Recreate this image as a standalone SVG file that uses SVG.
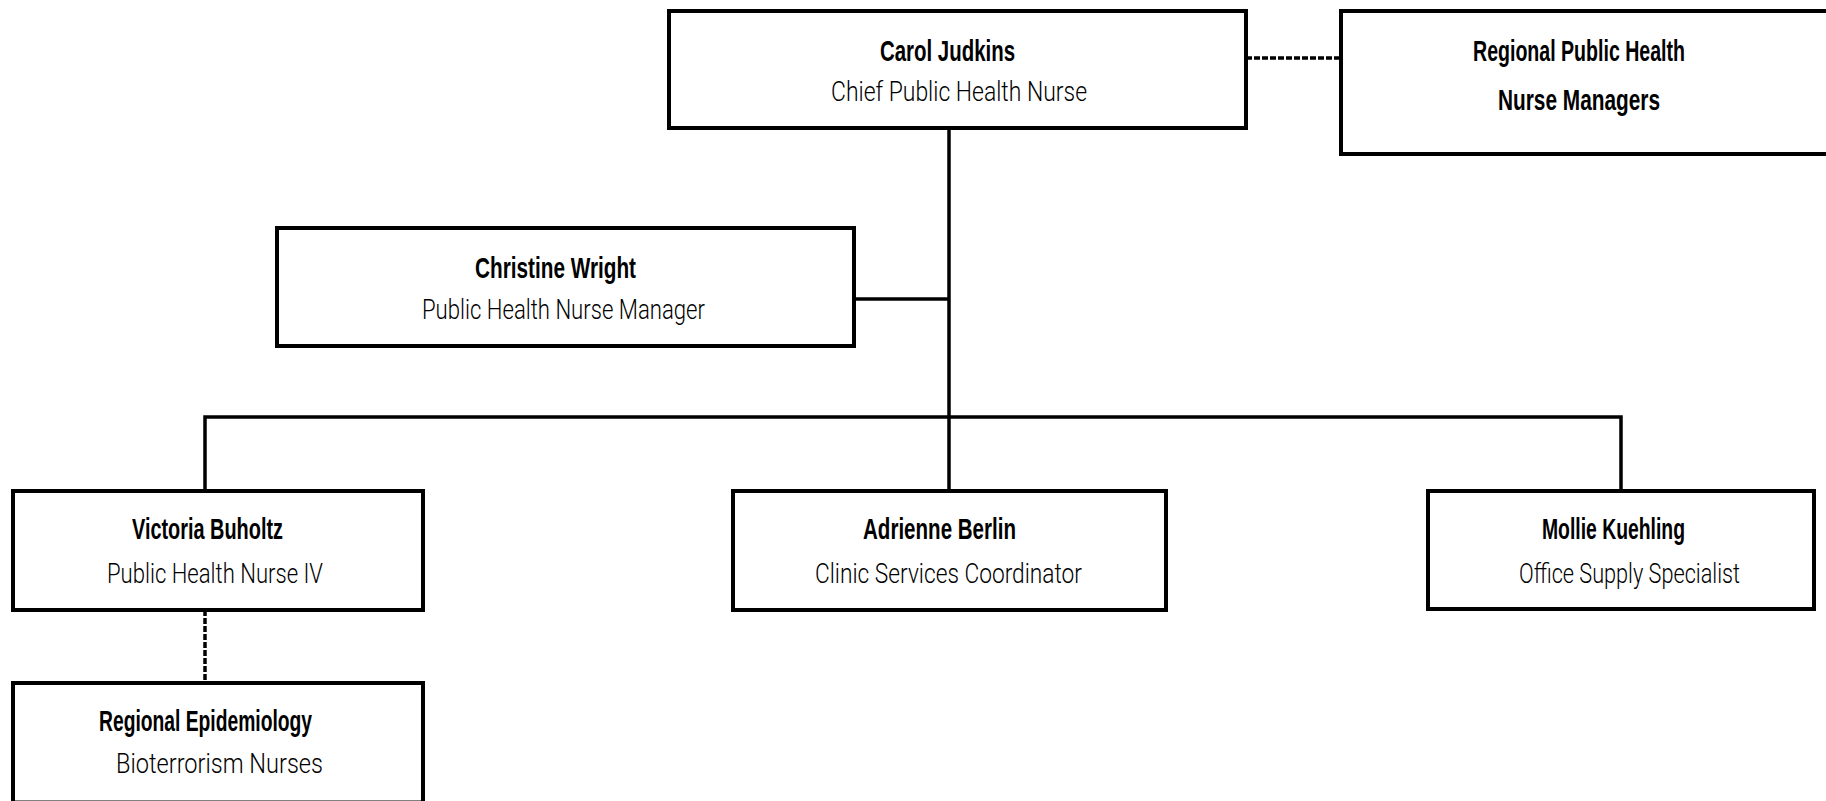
<svg xmlns="http://www.w3.org/2000/svg" width="1826" height="801" viewBox="0 0 1826 801">
  <style>
    .box { fill: #ffffff; stroke: #000000; stroke-width: 4; }
    .link { fill: none; stroke: #000000; stroke-width: 3.5; }
    .dotted { fill: none; stroke: #000000; stroke-width: 3.5; stroke-dasharray: 6 2; }
    .name { font-family: "Liberation Sans Narrow", "Liberation Sans", "DejaVu Sans Condensed", sans-serif; font-weight: bold; font-size: 30px; fill: #000000; }
    .title { font-family: Roboto, "Liberation Sans", sans-serif; font-weight: 300; font-size: 28px; fill: #000000; }
  </style>
  <rect x="0" y="0" width="1826" height="801" fill="#ffffff"/>

  <g id="connectors">
    <line class="link" x1="949" y1="128" x2="949" y2="491"/>
    <line class="link" x1="854" y1="299" x2="949" y2="299"/>
    <polyline class="link" points="205,491 205,417 1621,417 1621,491"/>
    <line class="dotted" x1="1246" y1="58" x2="1341" y2="58"/>
    <line class="dotted" x1="205" y1="610" x2="205" y2="683"/>
  </g>

  <g id="carol-judkins">
    <rect class="box" x="669" y="11" width="577" height="117"/>
    <text class="name" x="880" y="61" textLength="135" lengthAdjust="spacingAndGlyphs">Carol Judkins</text>
    <text class="title" x="831" y="101" textLength="256" lengthAdjust="spacingAndGlyphs">Chief Public Health Nurse</text>
  </g>

  <g id="regional-public-health">
    <rect class="box" x="1341" y="11" width="500" height="143"/>
    <text class="name" x="1473" y="61" textLength="212" lengthAdjust="spacingAndGlyphs">Regional Public Health</text>
    <text class="name" x="1498" y="110" textLength="162" lengthAdjust="spacingAndGlyphs">Nurse Managers</text>
  </g>

  <g id="christine-wright">
    <rect class="box" x="277" y="228" width="577" height="118"/>
    <text class="name" x="475" y="278" textLength="161" lengthAdjust="spacingAndGlyphs">Christine Wright</text>
    <text class="title" x="422" y="319" textLength="283" lengthAdjust="spacingAndGlyphs">Public Health Nurse Manager</text>
  </g>

  <g id="victoria-buholtz">
    <rect class="box" x="13" y="491" width="410" height="119"/>
    <text class="name" x="132" y="539" textLength="151" lengthAdjust="spacingAndGlyphs">Victoria Buholtz</text>
    <text class="title" x="107" y="583" textLength="216" lengthAdjust="spacingAndGlyphs">Public Health Nurse IV</text>
  </g>

  <g id="adrienne-berlin">
    <rect class="box" x="733" y="491" width="433" height="119"/>
    <text class="name" x="863" y="539" textLength="153" lengthAdjust="spacingAndGlyphs">Adrienne Berlin</text>
    <text class="title" x="815" y="583" textLength="267" lengthAdjust="spacingAndGlyphs">Clinic Services Coordinator</text>
  </g>

  <g id="mollie-kuehling">
    <rect class="box" x="1428" y="491" width="386" height="118"/>
    <text class="name" x="1542" y="539" textLength="143" lengthAdjust="spacingAndGlyphs">Mollie Kuehling</text>
    <text class="title" x="1519" y="583" textLength="221" lengthAdjust="spacingAndGlyphs">Office Supply Specialist</text>
  </g>

  <g id="regional-epidemiology">
    <rect class="box" x="13" y="683" width="410" height="119.5"/>
    <text class="name" x="99" y="731" textLength="213" lengthAdjust="spacingAndGlyphs">Regional Epidemiology</text>
    <text class="title" x="116" y="773" textLength="207" lengthAdjust="spacingAndGlyphs">Bioterrorism Nurses</text>
  </g>
</svg>
